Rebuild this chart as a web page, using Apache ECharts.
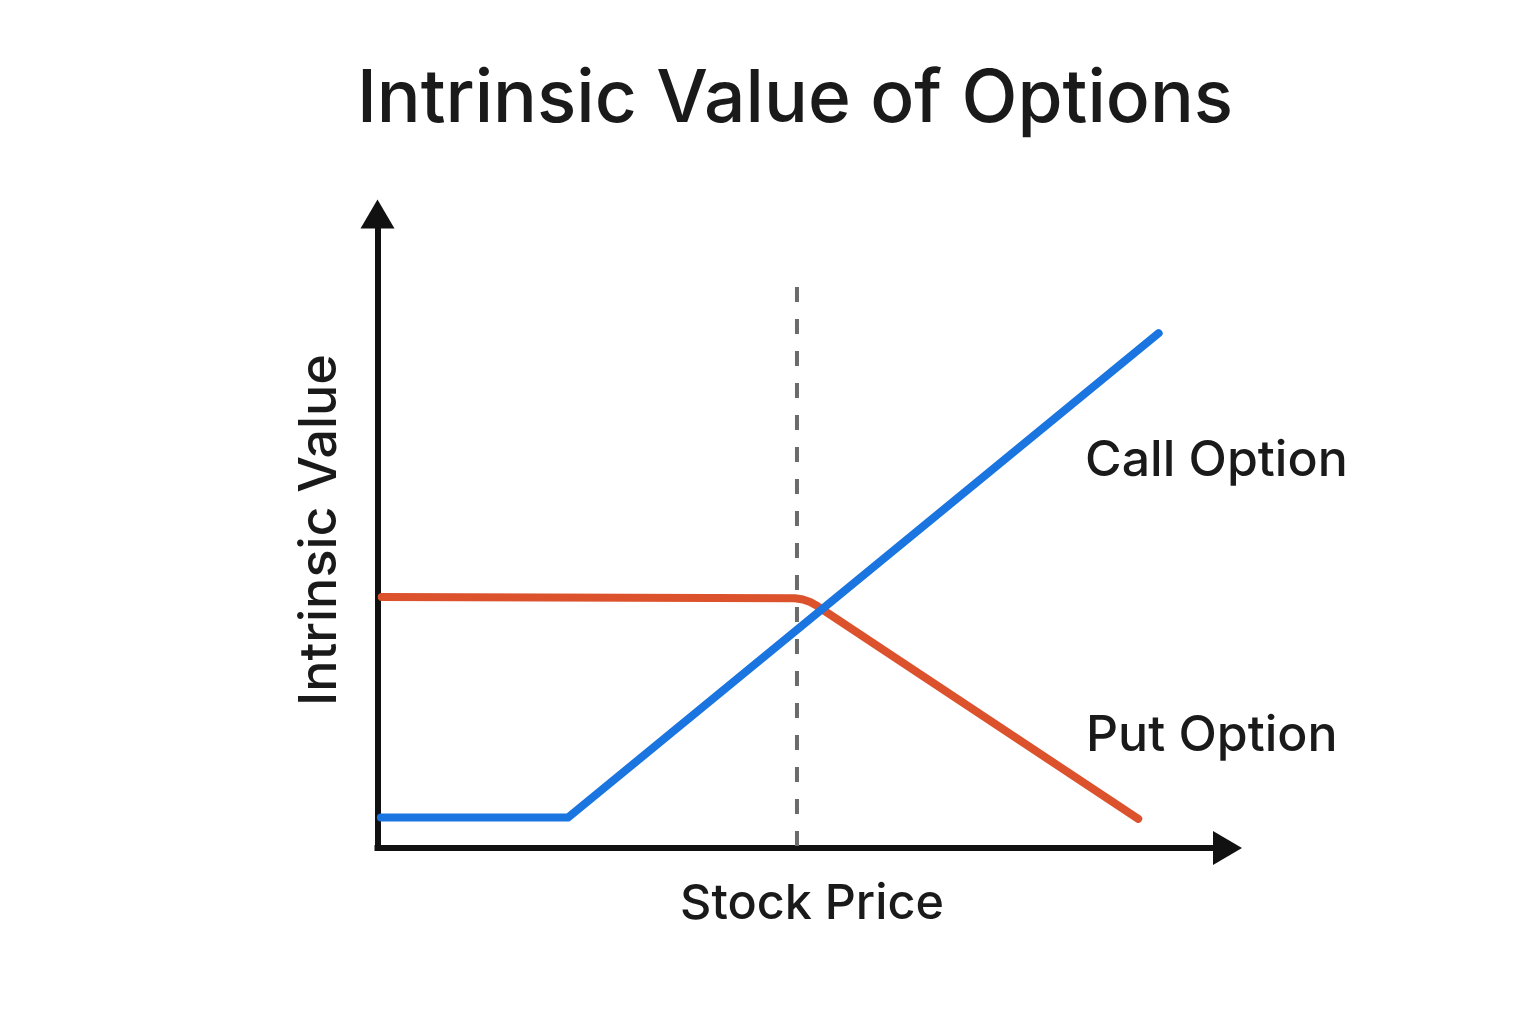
<!DOCTYPE html>
<html>
<head>
<meta charset="utf-8">
<title>Intrinsic Value of Options</title>
<script src="https://cdn.jsdelivr.net/npm/echarts@6/dist/echarts.min.js"></script>
<style>
    html, body { margin: 0; padding: 0; background: #ffffff; }
    #main { width: 1536px; height: 1024px; }
</style>
</head>
<body>
<div id="main"></div>
<script>
// 看涨期权 (call) 折线
var call_price = [0.4, 22.4, 91.9];
var call_value = [4.8, 4.8, 81.2];
// 看跌期权 (put) 折线, 拐角处多读几个点
var put_price = [0.5, 49.1, 50.05, 50.9, 51.7, 89.5];
var put_value = [39.6, 39.4, 39.2, 38.8, 38.2, 4.6];
// 行权价虚线
var strike_price = [49.35, 49.35];
var strike_value = [88.5, 0];

var chart = null;

/**
 * 拼成 [x, y] 数据
 */
function toPairs(xs, ys) {
    var list = [];
    for (var i = 0; i < xs.length; i++) {
        list.push([xs[i], ys[i]]);
    }
    return list;
}

function initChart() {
    chart = echarts.init(document.getElementById('main'));
    var font = 'Inter, "Noto Sans", sans-serif';
    var axisLine = {
        show: true,
        symbol: ['none', 'triangle'],
        symbolSize: [34, 29],
        lineStyle: { color: '#111111', width: 6, cap: 'square' }
    };
    var option = {
        backgroundColor: '#ffffff',
        animation: false,
        grid: { left: 377.5, right: 308.5, top: 214, bottom: 176 },
        xAxis: {
            type: 'value',
            min: 0,
            max: 100,
            axisLine: axisLine,
            axisTick: { show: false },
            axisLabel: { show: false },
            splitLine: { show: false }
        },
        yAxis: {
            type: 'value',
            min: 0,
            max: 100,
            axisLine: axisLine,
            axisTick: { show: false },
            axisLabel: { show: false },
            splitLine: { show: false }
        },
        graphic: [
            {
                type: 'text', x: 795, y: 100,
                style: { text: 'Intrinsic Value of Options', font: '500 73px ' + font, fill: '#1a1a1a', align: 'center', verticalAlign: 'middle' }
            },
            {
                type: 'text', x: 812, y: 904,
                style: { text: 'Stock Price', font: '500 48.5px ' + font, fill: '#1a1a1a', align: 'center', verticalAlign: 'middle' }
            },
            {
                type: 'text', x: 320, y: 530, rotation: Math.PI / 2,
                style: { text: 'Intrinsic Value', font: '500 52px ' + font, fill: '#1a1a1a', align: 'center', verticalAlign: 'middle' }
            },
            {
                type: 'text', x: 1085, y: 461,
                style: { text: 'Call Option', font: '500 50px ' + font, fill: '#1a1a1a', align: 'left', verticalAlign: 'middle' }
            },
            {
                type: 'text', x: 1086, y: 736,
                style: { text: 'Put Option', font: '500 50px ' + font, fill: '#1a1a1a', align: 'left', verticalAlign: 'middle' }
            }
        ],
        series: [
            {
                name: 'Strike',
                type: 'line',
                symbol: 'none',
                z: 1,
                lineStyle: { color: '#6b6b6b', width: 4, type: [15, 17] },
                data: toPairs(strike_price, strike_value)
            },
            {
                name: 'Put Option',
                type: 'line',
                symbol: 'none',
                z: 2,
                lineStyle: { color: '#dc522d', width: 8, cap: 'round', join: 'round' },
                data: toPairs(put_price, put_value)
            },
            {
                name: 'Call Option',
                type: 'line',
                symbol: 'none',
                z: 3,
                lineStyle: { color: '#1a75e0', width: 8, cap: 'round', join: 'round' },
                data: toPairs(call_price, call_value)
            }
        ]
    };
    chart.setOption(option);
}

initChart();
</script>
</body>
</html>
